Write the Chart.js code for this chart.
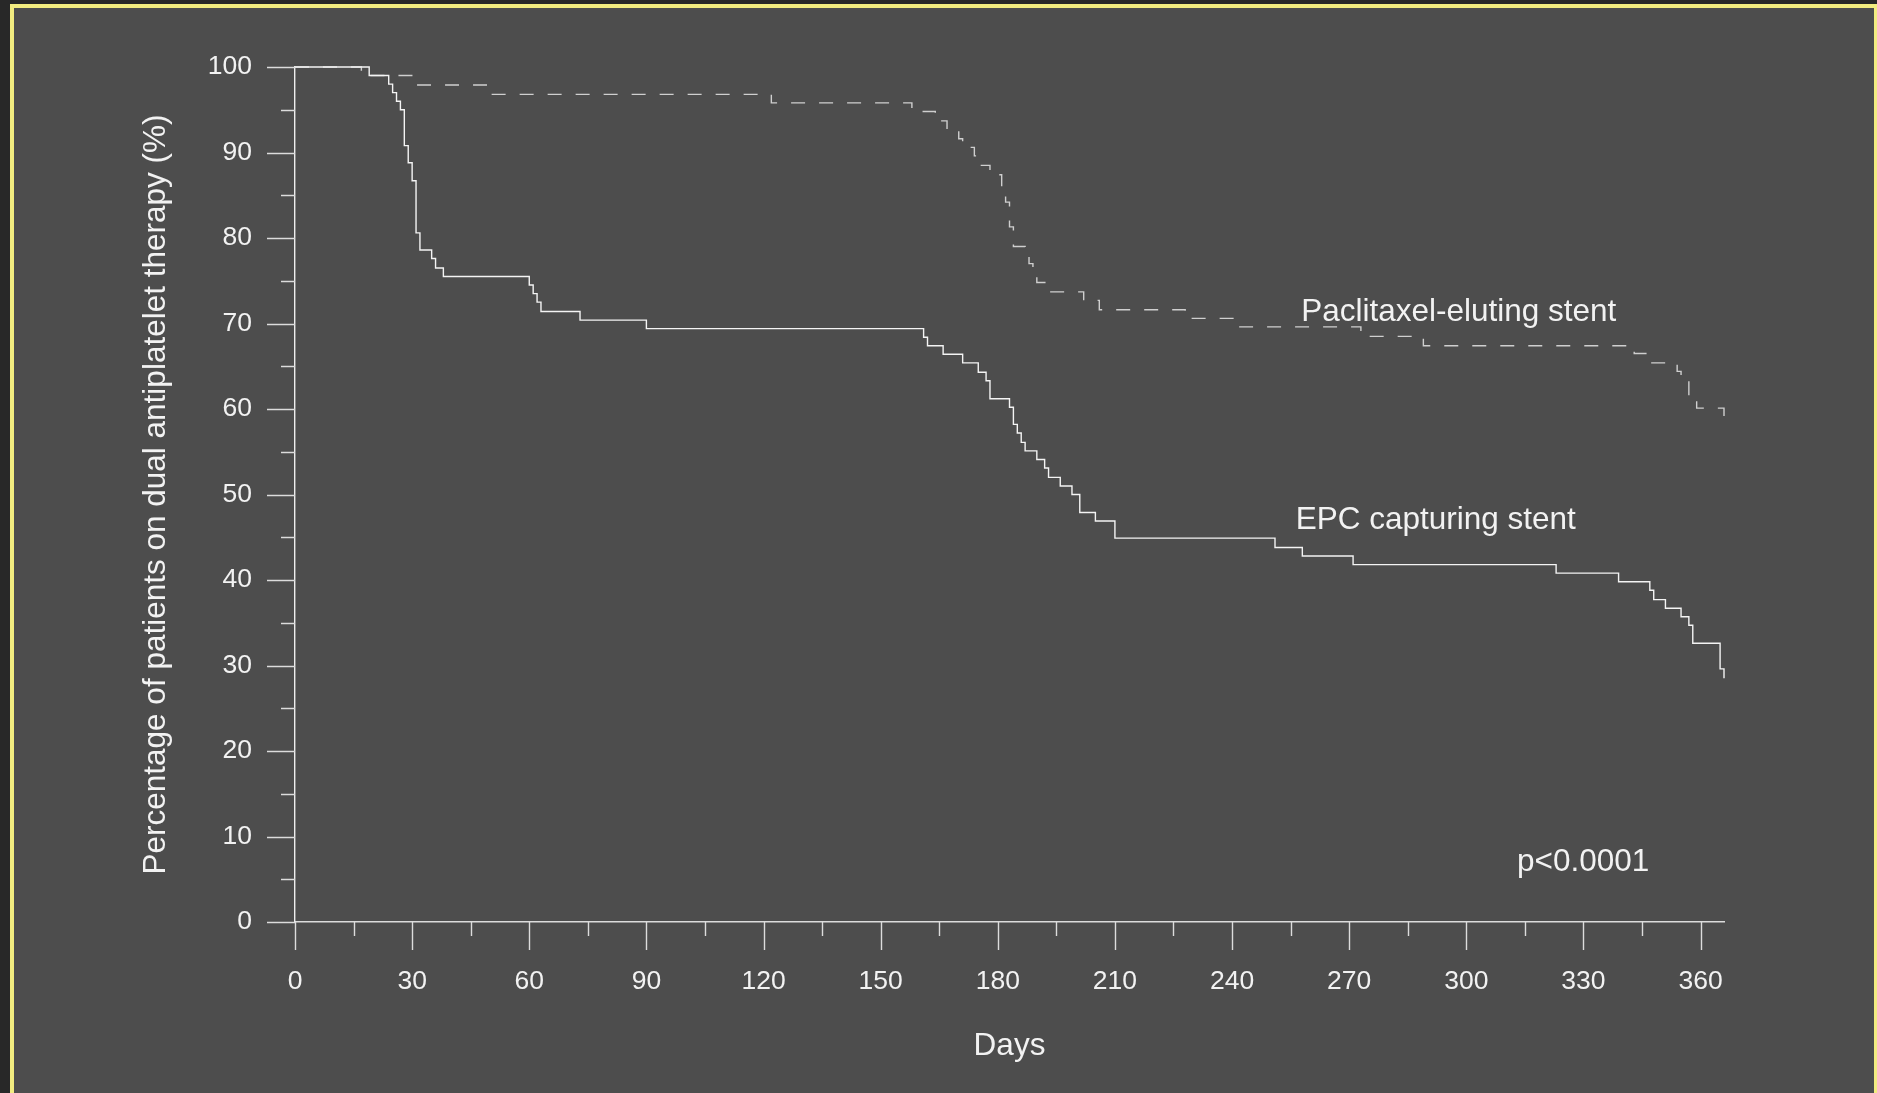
<!DOCTYPE html>
<html>
<head>
<meta charset="utf-8">
<script src="https://cdn.jsdelivr.net/npm/chart.js@4.4.1/dist/chart.umd.min.js"></script>
<style>
  html, body { margin: 0; padding: 0; background: #282828; overflow: hidden; width: 1877px; height: 1093px; }
  #frame { position: absolute; left: 10px; top: 4px; width: 1868px; height: 1200px; box-sizing: border-box; border: 4px solid #f2ec80; background: #4d4d4d; }
  #chart { position: absolute; left: 0; top: 0; }
</style>
</head>
<body>
<div id="frame"></div>
<canvas id="chart" width="1877" height="1093"></canvas>
<script>
// EPC capturing stent (solid): day of each step and the level after it
const epcDays = [0, 19, 24, 25, 26, 27, 28, 29, 30, 31, 32, 35, 36, 38, 60, 61, 62, 63, 73, 90,
  161, 162, 166, 171, 175, 177, 178, 183, 184, 185, 186, 187, 190, 192, 193, 196, 199, 201, 205, 210,
  251, 258, 271, 323, 339, 347, 348, 351, 355, 357, 358, 365, 366]
const epcValues = [100, 99, 98, 97, 96, 95, 90.8, 88.8, 86.7, 80.6, 78.6, 77.6, 76.5, 75.5, 74.5, 73.5, 72.5, 71.4, 70.4, 69.4,
  68.4, 67.4, 66.4, 65.4, 64.3, 63.3, 61.2, 60.2, 58.2, 57.2, 56.1, 55.1, 54.1, 53.1, 52.0, 51.0, 50.0, 47.9, 46.9, 44.9,
  43.8, 42.8, 41.8, 40.8, 39.8, 38.8, 37.7, 36.7, 35.7, 34.7, 32.6, 29.6, 28.5]

// Paclitaxel-eluting stent (dashed)
const pesDays = [0, 17, 31, 49, 122, 158, 164, 167, 170, 171, 174, 175, 178, 181, 182, 183, 184, 187, 188, 189,
  190, 193, 202, 206, 228, 242, 273, 289, 343, 347, 354, 355, 357, 359, 366]
const pesValues = [100, 99, 97.9, 96.8, 95.8, 94.8, 93.7, 92.7, 91.6, 90.6, 89.6, 88.5, 87.4, 85.4, 84.2, 81.3, 79.0, 78.0, 77.0, 75.8,
  74.8, 73.7, 72.7, 71.6, 70.6, 69.6, 68.5, 67.4, 66.5, 65.4, 64.4, 63.4, 61.1, 60.1, 59.0]

const xTicks = [0, 30, 60, 90, 120, 150, 180, 210, 240, 270, 300, 330, 360]
const yTicks = [0, 10, 20, 30, 40, 50, 60, 70, 80, 90, 100]

// text placed in the plot, anchored in data units (day, %)
const curveLabels = [
  { text: "Paclitaxel-eluting stent", day: 257.7, value: 70.3 },
  { text: "EPC capturing stent", day: 256.3, value: 46.0 },
  { text: "p<0.0001", day: 313, value: 6.0 }
]

const FONT = "'Liberation Sans', Arial, sans-serif"
const TEXT = "#f2f2f2"
const AXIS = "#dcdcdc"

const toPoints = (days, values) => days.map((d, i) => ({ x: d, y: values[i] }))

// major/minor tick marks, drawn through the scales
const tickMarks = {
  id: "tickMarks",
  afterDraw(chart) {
    const { ctx, chartArea } = chart
    const x = chart.scales.x
    const y = chart.scales.y
    ctx.save()
    ctx.strokeStyle = AXIS
    ctx.lineWidth = 1.4
    ctx.beginPath()
    for (let d = 0; d <= 365; d += 15) {
      const px = Math.round(x.getPixelForValue(d)) + 0.5
      const len = d % 30 === 0 ? 28 : 14
      ctx.moveTo(px, chartArea.bottom)
      ctx.lineTo(px, chartArea.bottom + len)
    }
    for (let v = 0; v <= 100; v += 5) {
      const py = Math.round(y.getPixelForValue(v)) + 0.5
      const len = v % 10 === 0 ? 28 : 14
      ctx.moveTo(chartArea.left - len, py)
      ctx.lineTo(chartArea.left, py)
    }
    ctx.stroke()
    ctx.restore()
  }
}

const plotText = {
  id: "plotText",
  afterDraw(chart) {
    const { ctx } = chart
    const x = chart.scales.x
    const y = chart.scales.y
    ctx.save()
    ctx.fillStyle = TEXT
    ctx.font = "31.5px " + FONT
    ctx.textAlign = "left"
    ctx.textBaseline = "alphabetic"
    curveLabels.forEach(l => {
      ctx.fillText(l.text, x.getPixelForValue(l.day), y.getPixelForValue(l.value))
    })
    ctx.restore()
  }
}

const ctx = document.getElementById("chart")

new Chart(ctx, {
  type: "line",
  data: {
    datasets: [
      {
        label: "EPC capturing stent",
        data: toPoints(epcDays, epcValues),
        stepped: true,
        borderColor: "#f4f4f4",
        borderWidth: 1.4,
        pointRadius: 0,
        fill: false,
        clip: false
      },
      {
        label: "Paclitaxel-eluting stent",
        data: toPoints(pesDays, pesValues),
        stepped: true,
        borderColor: "#cfcfcf",
        borderWidth: 1.4,
        borderDash: [14, 14],
        pointRadius: 0,
        fill: false,
        clip: false
      }
    ]
  },
  options: {
    responsive: false,
    animation: false,
    devicePixelRatio: 1,
    layout: { padding: { left: 0, top: 67, right: 153, bottom: 0 } },
    plugins: {
      legend: { display: false },
      tooltip: { enabled: false }
    },
    scales: {
      x: {
        type: "linear",
        min: 0,
        max: 366,
        afterFit: s => { s.height = 171 },
        afterBuildTicks: s => { s.ticks = xTicks.map(v => ({ value: v })) },
        grid: { display: false, drawTicks: false },
        border: { display: true, color: AXIS, width: 1.4 },
        ticks: {
          color: TEXT,
          font: { family: FONT, size: 26.5 },
          padding: 44,
          maxRotation: 0,
          autoSkip: false
        },
        title: {
          display: true,
          text: "Days",
          color: TEXT,
          font: { family: FONT, size: 31.5 },
          padding: { top: 0, bottom: 28 }
        }
      },
      y: {
        min: 0,
        max: 100,
        afterFit: s => { s.width = 295 },
        afterBuildTicks: s => { s.ticks = yTicks.map(v => ({ value: v })) },
        grid: { display: false, drawTicks: false },
        border: { display: true, color: "#eeeeee", width: 1.4 },
        ticks: {
          color: TEXT,
          font: { family: FONT, size: 26.5 },
          padding: 43,
          autoSkip: false
        },
        title: {
          display: true,
          text: "Percentage of patients on dual antiplatelet therapy (%)",
          color: TEXT,
          font: { family: FONT, size: 31.5 },
          padding: { top: 137, bottom: 0 }
        }
      }
    }
  },
  plugins: [tickMarks, plotText]
})
</script>
</body>
</html>
